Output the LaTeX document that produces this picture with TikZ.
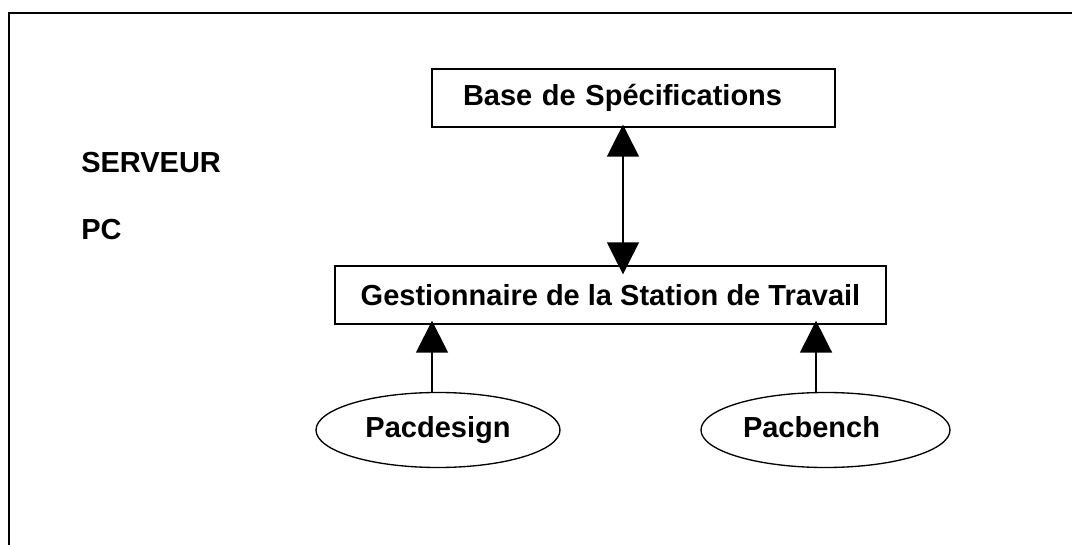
\documentclass[tikz,border=0pt]{standalone}
\usepackage{fontspec}
\setmainfont{Liberation Sans}
\usetikzlibrary{arrows.meta,shapes.geometric}

\tikzset{
  label/.style={font=\bfseries\fontsize{21.75pt}{26pt}\selectfont, inner sep=0pt},
  box/.style={draw, line width=1pt, font=\bfseries\fontsize{21.75pt}{26pt}\selectfont,
    minimum height=43.5pt, inner sep=0pt},
  tool/.style={ellipse, draw, line width=1pt, font=\bfseries\fontsize{21.75pt}{26pt}\selectfont,
    minimum height=56.25pt, inner sep=0pt, text height=16pt, text depth=4.6pt},
  link/.style={line width=1.1pt, >={Triangle[length=24pt,width=24pt]}},
}

\begin{document}
\begin{tikzpicture}[x=0.75pt, y=-0.75pt]
\useasboundingbox (0,0) rectangle (1072,545);

%Frame
\draw[line width=1.5pt] (1072,13) -- (9,13) -- (9,545);

%Levels
\node[label, anchor=west] (serveur) at (81,163) {SERVEUR};
\node[label, anchor=west] (pc) at (81,230) {PC};

%Boxes
\node[box, minimum width=302.25pt, text width=255.75pt, inner xsep=23.25pt, align=left]
  (spec) at (633.5,98) {Base de Sp\'ecifications};
\node[box, minimum width=413.25pt] (gest) at (610.5,295) {Gestionnaire de la Station de Travail};

%Tools
\node[tool, minimum width=183pt] (design) at (438,430) {Pacdesign};
\node[tool, minimum width=186.75pt] (bench) at (825.5,430) {\hspace*{-21pt}Pacbench};

%Arrows
\coordinate (specfoot) at ([xshift=-7.9pt]spec.south);
\coordinate (gesttop) at (specfoot |- gest.north);
\draw[link, <->, shorten <=-2.25pt, shorten >=-6.75pt] (specfoot) -- (gesttop);

\coordinate (designtop) at ([xshift=-4.5pt]design.north);
\coordinate (benchtop) at ([xshift=-7.1pt]bench.north);
\draw[link, ->, shorten >=-3pt] (designtop) -- (designtop |- gest.south);
\draw[link, ->, shorten >=-3pt] (benchtop) -- (benchtop |- gest.south);
\end{tikzpicture}
\end{document}
